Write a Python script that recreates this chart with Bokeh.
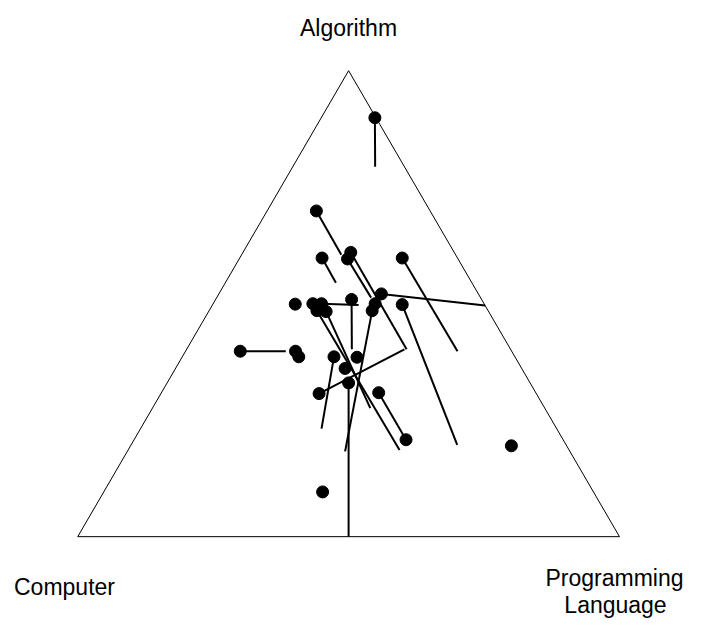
import math
from bokeh.plotting import figure
from bokeh.models import Label, Range1d
from bokeh.embed import file_html
from bokeh.resources import INLINE

# Ternary compositions (Algorithm, Programming Language, Computer)
algorithm = [0.899, 0.699, 0.598, 0.610, 0.596, 0.598, 0.521, 0.498, 0.499, 0.500,
             0.500, 0.485, 0.483, 0.509, 0.500, 0.485, 0.398, 0.398, 0.386, 0.386,
             0.385, 0.361, 0.330, 0.307, 0.309, 0.208, 0.195, 0.096]
programming = [0.099, 0.091, 0.152, 0.199, 0.200, 0.300, 0.300, 0.350, 0.152, 0.184,
               0.200, 0.199, 0.217, 0.251, 0.299, 0.301, 0.101, 0.203, 0.215, 0.280,
               0.323, 0.313, 0.335, 0.292, 0.401, 0.502, 0.703, 0.404]
computer = [0.002, 0.210, 0.250, 0.191, 0.204, 0.102, 0.179, 0.152, 0.349, 0.316,
            0.300, 0.316, 0.300, 0.240, 0.201, 0.214, 0.501, 0.399, 0.399, 0.334,
            0.292, 0.326, 0.335, 0.401, 0.290, 0.290, 0.102, 0.500]

# Segment end compositions (None = no segment)
end_algorithm = [0.794, 0.605, 0.545, 0.402, 0.513, 0.398, 0.496, 0.197, None, None,
                 0.497, 0.186, 0.276, 0.402, None, 0.183, 0.398, None, None, 0.232,
                 None, None, 0.000, 0.402, 0.208, None, None, None]
end_programming = [0.152, 0.184, 0.204, 0.406, 0.285, 0.502, 0.504, 0.602, None, None,
                   0.270, 0.501, 0.402, 0.305, None, 0.402, 0.185, None, None, 0.334,
                   None, None, 0.500, 0.402, 0.502, None, None, None]
end_computer = [0.054, 0.211, 0.251, 0.192, 0.202, 0.100, 0.000, 0.201, None, None,
                0.233, 0.313, 0.322, 0.293, None, 0.415, 0.417, None, None, 0.434,
                None, None, 0.500, 0.196, 0.290, None, None, None]

vertex_labels = ["Algorithm", "Computer", "Programming", "Language"]

H = math.sqrt(3) / 2


def tern_xy(a, p, c):
    s = a + p + c
    a, p = a / s, p / s
    return p + a / 2, a * H


W, Hpx = 706, 620
sx, sy = W / 722.0, Hpx / 636.0
x_px = 554.0 * sx            # pixels per unit along x
y_px = 478.0 * sy / H        # pixels per unit along y
x0 = -79.0 * sx / x_px
y0 = -(Hpx - 550.0 * sy) / y_px

p = figure(width=W, height=Hpx, output_backend="svg", toolbar_location=None,
           x_range=Range1d(x0, x0 + W / x_px), y_range=Range1d(y0, y0 + Hpx / y_px),
           min_border=0)
p.xaxis.visible = False
p.yaxis.visible = False
p.grid.visible = False
p.outline_line_color = None
p.background_fill_color = "white"
p.border_fill_color = "white"

# triangle
tri = [tern_xy(0, 0, 1), tern_xy(0, 1, 0), tern_xy(1, 0, 0), tern_xy(0, 0, 1)]
p.line([t[0] for t in tri], [t[1] for t in tri], line_color="black", line_width=1)

# segments
xs0, ys0, xs1, ys1 = [], [], [], []
for i in range(len(algorithm)):
    if end_algorithm[i] is None:
        continue
    sx0, sy0 = tern_xy(algorithm[i], programming[i], computer[i])
    ex, ey = tern_xy(end_algorithm[i], end_programming[i], end_computer[i])
    xs0.append(sx0); ys0.append(sy0); xs1.append(ex); ys1.append(ey)
p.segment(xs0, ys0, xs1, ys1, line_color="black", line_width=2)

# points
pts = [tern_xy(a, b, c) for a, b, c in zip(algorithm, programming, computer)]
p.scatter([q[0] for q in pts], [q[1] for q in pts], size=12, fill_color="black",
          line_color="black")

font = "Liberation Sans"
fs = "23px"


def lab(text, px, py):
    # px, py in canvas pixels from top-left
    p.add_layout(Label(x=x0 + px / x_px, y=y0 + (Hpx - py) / y_px, text=text,
                       text_align="center", text_baseline="middle",
                       text_font=font, text_font_size=fs, text_color="black"))


lab(vertex_labels[0], 348, 27)
lab(vertex_labels[1], 64, 586)
lab(vertex_labels[2], 614, 577)
lab(vertex_labels[3], 615, 604)

open("out.html", "w").write(file_html(p, INLINE))
